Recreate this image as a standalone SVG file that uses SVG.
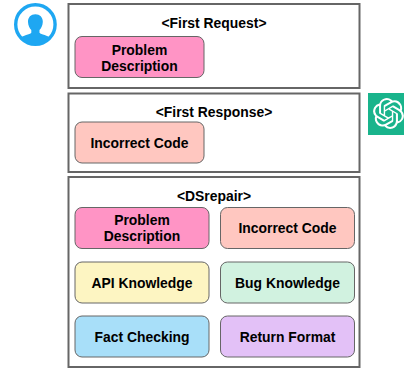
<svg xmlns="http://www.w3.org/2000/svg" width="404" height="368" viewBox="0 0 404 368">
<style>
.outer{fill:#fff;stroke:#666;stroke-width:2}
.in{stroke:#666;stroke-width:1}
text{font-family:"Liberation Sans",Arial,sans-serif;font-weight:700;font-size:13.900px;fill:#000;text-anchor:middle}
</style>
<defs><clipPath id="ring"><circle cx="35.400" cy="24.500" r="20"/></clipPath></defs>
<rect width="404" height="368" fill="#fff"/>
<g id="connectors"/>
<g id="user-icon">
<circle cx="35.400" cy="24.500" r="19.700" fill="#fff" stroke="#1ea7f2" stroke-width="3.400"/>
<path clip-path="url(#ring)" d="M35.400 14.300c-4.700 0-7.600 3.400-7.400 7.800.2 3.300 1.400 6.100 3.300 8v2.700c-1.600 1.800-8 2.600-12.300 5.400v10h32.800v-10c-4.300-2.800-10.700-3.600-12.300-5.400v-2.700c1.900-1.900 3.100-4.700 3.300-8 .2-4.400-2.700-7.800-7.400-7.800z" fill="#1ea7f2"/>
</g>
<g id="first-request">
<rect class="outer" x="68.500" y="4" width="291" height="84"/>
<text x="214" y="28">&lt;First Request&gt;</text>
</g>
<g id="first-request-problem">
<rect class="in" x="75" y="36.500" width="129" height="41" rx="7" fill="#ff94c5"/>
<text x="139.500" y="54.500">Problem</text>
<text x="139.500" y="70.500">Description</text>
</g>
<g id="first-response">
<rect class="outer" x="68.500" y="93.500" width="291" height="78.500"/>
<text x="214" y="117">&lt;First Response&gt;</text>
</g>
<g id="first-response-code">
<rect class="in" x="75" y="122" width="129" height="41" rx="7" fill="#ffc7c0"/>
<text x="139.500" y="148">Incorrect Code</text>
</g>
<g id="chatgpt-logo">
<rect x="368" y="93" width="36" height="42" fill="#19b48c"/>
<path transform="translate(373 98) scale(1.290)" fill="#fff" d="M22.2819 9.8211a5.9847 5.9847 0 0 0-.5157-4.9108 6.0462 6.0462 0 0 0-6.5098-2.9A6.0651 6.0651 0 0 0 4.9807 4.1818a5.9847 5.9847 0 0 0-3.9977 2.9 6.0462 6.0462 0 0 0 .7427 7.0966 5.98 5.98 0 0 0 .511 4.9107 6.051 6.051 0 0 0 6.5146 2.9001A5.9847 5.9847 0 0 0 13.2599 24a6.0557 6.0557 0 0 0 5.7718-4.2058 5.9894 5.9894 0 0 0 3.9977-2.9001 6.0557 6.0557 0 0 0-.7475-7.0729zm-9.022 12.6081a4.4755 4.4755 0 0 1-2.8764-1.0408l.1419-.0804 4.7783-2.7582a.7948.7948 0 0 0 .3927-.6813v-6.7369l2.02 1.1686a.071.071 0 0 1 .038.052v5.5826a4.504 4.504 0 0 1-4.4945 4.4944zm-9.6607-4.1254a4.4708 4.4708 0 0 1-.5346-3.0137l.142.0852 4.783 2.7582a.7712.7712 0 0 0 .7806 0l5.8428-3.3685v2.3324a.0804.0804 0 0 1-.0332.0615L9.74 19.9502a4.4992 4.4992 0 0 1-6.1408-1.6464zM2.3408 7.8956a4.485 4.485 0 0 1 2.3655-1.9728V11.6a.7664.7664 0 0 0 .3879.6765l5.8144 3.3543-2.0201 1.1685a.0757.0757 0 0 1-.071 0l-4.8303-2.7865A4.504 4.504 0 0 1 2.3408 7.872zm16.5963 3.8558L13.1038 8.364 15.1192 7.2a.0757.0757 0 0 1 .071 0l4.8303 2.7913a4.4944 4.4944 0 0 1-.6765 8.1042v-5.6772a.79.79 0 0 0-.407-.667zm2.0107-3.0231l-.142-.0852-4.7735-2.7818a.7759.7759 0 0 0-.7854 0L9.409 9.2297V6.8974a.0662.0662 0 0 1 .0284-.0615l4.8303-2.7866a4.4992 4.4992 0 0 1 6.6802 4.66zM8.3065 12.863l-2.02-1.1638a.0804.0804 0 0 1-.038-.0567V6.0742a4.4992 4.4992 0 0 1 7.3757-3.4537l-.142.0805L8.704 5.459a.7948.7948 0 0 0-.3927.6813zm1.0976-2.3654l2.602-1.4998 2.6069 1.4998v2.9994l-2.5974 1.4997-2.6067-1.4997Z"/>
</g>
<g id="dsrepair">
<rect class="outer" x="68.500" y="177" width="291" height="190"/>
<text x="214" y="201">&lt;DSrepair&gt;</text>
</g>
<g id="ds-problem">
<rect class="in" x="75" y="207.500" width="134" height="41" rx="7" fill="#ff94c5"/>
<text x="142" y="225">Problem</text>
<text x="142" y="241">Description</text>
</g>
<g id="ds-code">
<rect class="in" x="220.500" y="207.500" width="134" height="41" rx="7" fill="#ffc7c0"/>
<text x="287.500" y="233">Incorrect Code</text>
</g>
<g id="ds-api">
<rect class="in" x="75" y="262" width="134" height="41" rx="7" fill="#fdf5c2"/>
<text x="142" y="288">API Knowledge</text>
</g>
<g id="ds-bug">
<rect class="in" x="220.500" y="262" width="134" height="41" rx="7" fill="#d1f2e0"/>
<text x="287.500" y="288">Bug Knowledge</text>
</g>
<g id="ds-fact">
<rect class="in" x="75" y="316" width="134" height="41" rx="7" fill="#a8dff9"/>
<text x="142" y="342">Fact Checking</text>
</g>
<g id="ds-format">
<rect class="in" x="220.500" y="316" width="134" height="41" rx="7" fill="#e3c1f7"/>
<text x="287.500" y="342">Return Format</text>
</g>
</svg>
